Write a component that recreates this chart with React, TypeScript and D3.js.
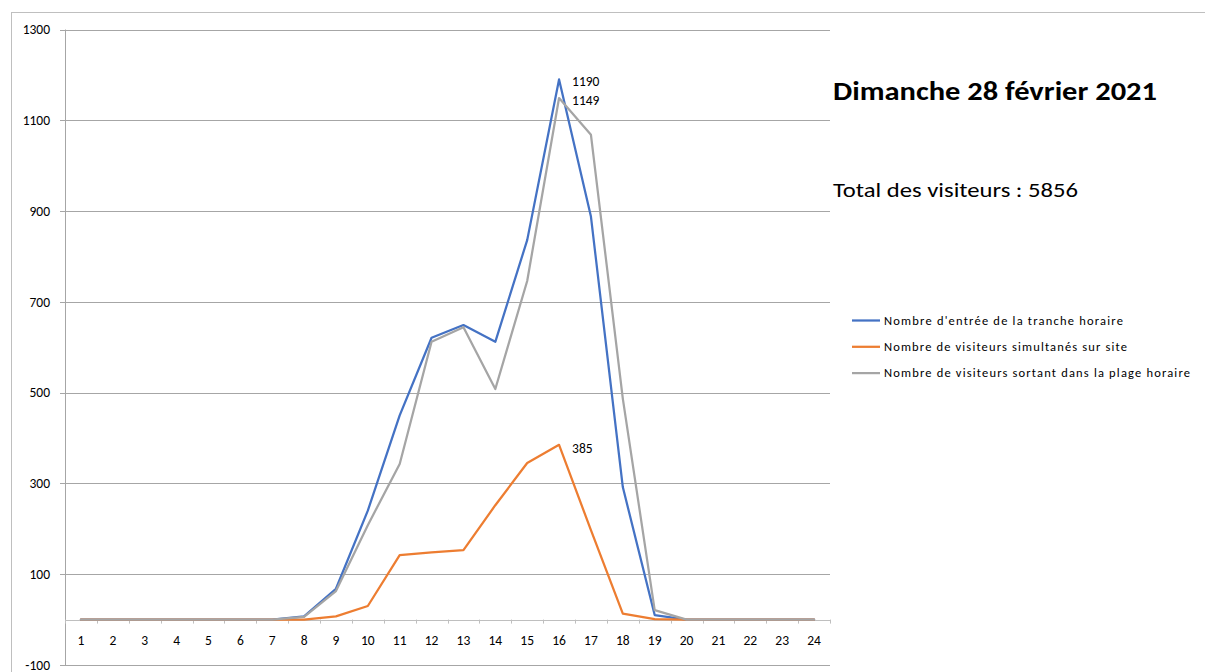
import * as d3 from "d3";

const hours = ["1", "2", "3", "4", "5", "6", "7", "8", "9", "10", "11", "12", "13", "14", "15", "16", "17", "18", "19", "20", "21", "22", "23", "24"];
const entrees = [0, 0, 0, 0, 0, 0, 0, 7, 68, 240, 450, 621, 649, 612, 836, 1190, 888, 292, 10, 0, 0, 0, 0, 0];
const simultanes = [0, 0, 0, 0, 0, 0, 0, 0, 7, 30, 142, 148, 153, 252, 345, 385, 197, 13, 1, 0, 0, 0, 0, 0];
const sortants = [0, 0, 0, 0, 0, 0, 0, 6, 63, 208, 343, 612, 644, 508, 746, 1149, 1068, 487, 21, 0, 0, 0, 0, 0];
const yTicks = [-100, 100, 300, 500, 700, 900, 1100, 1300];

const seriesNames = [
  "Nombre d'entrée de la tranche horaire",
  "Nombre de visiteurs simultanés sur site",
  "Nombre de visiteurs sortant dans la plage horaire",
];
const colors = ["#4472c4", "#ed7d31", "#a5a5a5"];
const series = [entrees, simultanes, sortants];

const title = "Dimanche 28 février 2021";
const subtitle = "Total des visiteurs : 5856";

const font = "Carlito, Calibri, Lato, sans-serif";

export default function App() {
  const width = 1205;
  const height = 672;

  const x = d3.scaleBand<string>().domain(hours).range([65, 830]);
  const y = d3.scaleLinear().domain([-100, 1300]).range([665, 29.5]);

  const line = d3
    .line<number>()
    .x((_, i) => (x(hours[i]) as number) + x.bandwidth() / 2)
    .y((d) => y(d));

  const cx = (i: number) => (x(hours[i]) as number) + x.bandwidth() / 2;
  const peak = 15;

  return (
    <svg
      width={width}
      height={height}
      style={{ position: "absolute", left: 0, top: 0, background: "#fff", fontFamily: font }}
    >
      {/* cadre */}
      <line x1={11} x2={width} y1={12.5} y2={12.5} stroke="#bfbfbf" />
      <line x1={11.5} x2={11.5} y1={12} y2={height} stroke="#bfbfbf" />

      {/* grille */}
      {yTicks.map((t) => (
        <g key={t}>
          <line x1={60} x2={830} y1={Math.round(y(t)) + 0.5} y2={Math.round(y(t)) + 0.5} stroke="#a6a6a6" />
          <text x={50} y={y(t)} dy="0.35em" textAnchor="end" fontSize={13.5} fill="#000">
            {t}
          </text>
        </g>
      ))}
      <line x1={65.5} x2={65.5} y1={y(1300)} y2={y(-100)} stroke="#a6a6a6" />

      {/* axe des x a zero */}
      <line x1={65} x2={830} y1={Math.round(y(0)) + 0.5} y2={Math.round(y(0)) + 0.5} stroke="#bfbfbf" />
      {hours.map((h, i) => (
        <g key={h}>
          <line
            x1={Math.round(x(h) as number) + 0.5}
            x2={Math.round(x(h) as number) + 0.5}
            y1={y(0)}
            y2={y(0) + 4}
            stroke="#bfbfbf"
          />
          <text x={cx(i)} y={640} dy="0.35em" textAnchor="middle" fontSize={13.5} fill="#000">
            {h}
          </text>
        </g>
      ))}
      <line x1={830.5} x2={830.5} y1={y(0)} y2={y(0) + 4} stroke="#bfbfbf" />

      {/* courbes */}
      {series.map((s, k) => (
        <path
          key={k}
          d={line(s) as string}
          fill="none"
          stroke={colors[k]}
          strokeWidth={2.25}
          strokeLinejoin="round"
          strokeLinecap="round"
        />
      ))}

      {/* etiquettes */}
      <text x={cx(peak) + 13} y={y(entrees[peak]) + 2} dy="0.35em" fontSize={13.5}>
        {entrees[peak]}
      </text>
      <text x={cx(peak) + 13} y={y(sortants[peak]) + 2} dy="0.35em" fontSize={13.5}>
        {sortants[peak]}
      </text>
      <text x={cx(peak) + 13} y={y(simultanes[peak]) + 3} dy="0.35em" fontSize={13.5}>
        {simultanes[peak]}
      </text>

      {/* titre */}
      <text x={833} y={100} fontSize={26.5} fontWeight="bold" textLength={324} lengthAdjust="spacingAndGlyphs">
        {title}
      </text>
      <text x={833} y={197} fontSize={19.5} textLength={245} lengthAdjust="spacingAndGlyphs">
        {subtitle}
      </text>

      {/* legende */}
      {seriesNames.map((n, k) => (
        <g key={n} transform={`translate(852, ${320.5 + k * 26.3})`}>
          <line x1={0} x2={28} y1={0} y2={0} stroke={colors[k]} strokeWidth={2.25} />
          <text x={32} y={0} dy="0.35em" fontSize={12.5} textLength={[239, 243, 306][k]} lengthAdjust="spacing">
            {n}
          </text>
        </g>
      ))}
    </svg>
  );
}
